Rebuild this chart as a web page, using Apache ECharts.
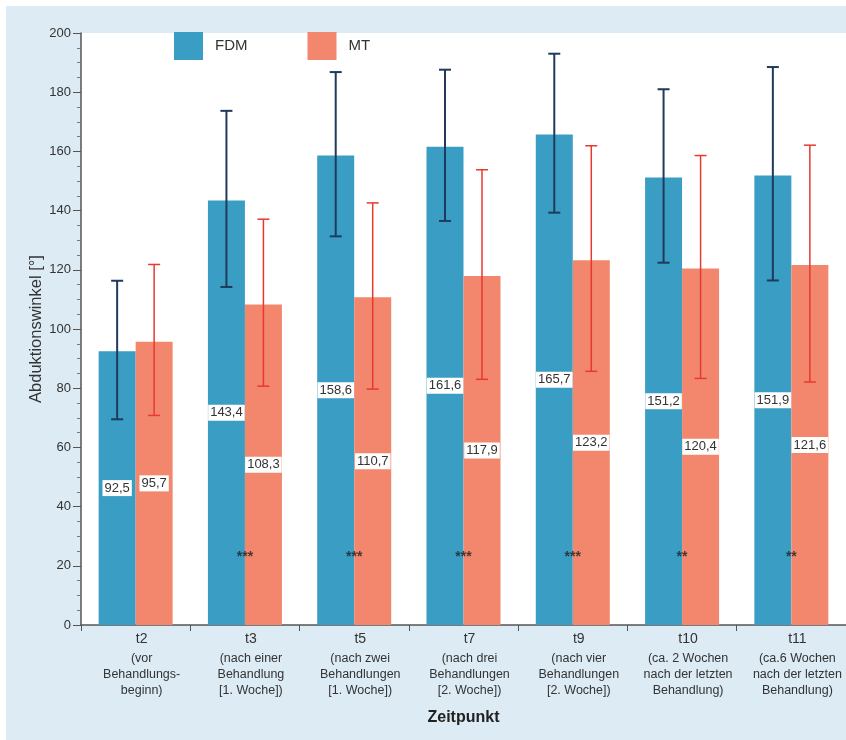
<!DOCTYPE html>
<html>
<head>
<meta charset="utf-8">
<script src="https://cdn.jsdelivr.net/npm/echarts@6/dist/echarts.min.js"></script>
<style>
html,body{margin:0;padding:0;background:#ffffff;width:846px;height:740px;overflow:hidden;}
#chart{position:absolute;left:6px;top:6px;width:840px;height:734px;background:#dcebf4;}
</style>
</head>
<body>
<div id="chart"></div>
<script>
// ---- data ----
const categories = ['t2','t3','t5','t7','t9','t10','t11'];
const subLabels = [
  '(vor\nBehandlungs-\nbeginn)',
  '(nach einer\nBehandlung\n[1. Woche])',
  '(nach zwei\nBehandlungen\n[1. Woche])',
  '(nach drei\nBehandlungen\n[2. Woche])',
  '(nach vier\nBehandlungen\n[2. Woche])',
  '(ca. 2 Wochen\nnach der letzten\nBehandlung)',
  '(ca.6 Wochen\nnach der letzten\nBehandlung)'
];
const fdmValues = [92.5, 143.4, 158.6, 161.6, 165.7, 151.2, 151.9];
const mtValues  = [95.7, 108.3, 110.7, 117.9, 123.2, 120.4, 121.6];
const fdmLow  = [69.5, 114.2, 131.3, 136.5, 139.3, 122.4, 116.4];
const fdmHigh = [116.3, 173.7, 186.8, 187.6, 193.0, 181.0, 188.5];
const mtLow   = [70.8, 80.7, 79.7, 83.0, 85.7, 83.3, 82.1];
const mtHigh  = [121.8, 137.1, 142.6, 153.8, 161.9, 158.6, 162.1];
const significance = ['', '***', '***', '***', '***', '**', '**'];
const significanceY = [23, 23, 23, 23, 23, 23, 23];
const yTicks = {min: 0, max: 200, interval: 20};

// ---- styles ----
const BLUE = '#3a9dc4';
const SALMON = '#f3876d';
const NAVY = '#1f3a5c';
const RED = '#e8392f';
const BAR_W = 37;

const chart = echarts.init(document.getElementById('chart'), null, {renderer: 'canvas'});

function fmt(v){ return String(v.toFixed(1)).replace('.', ','); }

function errorSeries(name, low, high, color, side, lw){
  return {
    type: 'custom',
    name: name + '_err',
    z: 10,
    silent: true,
    data: categories.map((c, i) => [i, low[i], high[i]]),
    encode: {x: 0, y: [1, 2]},
    renderItem: function(params, api){
      const i = api.value(0);
      const pLow = api.coord([i, api.value(1)]);
      const pHigh = api.coord([i, api.value(2)]);
      const x = pLow[0] + side * BAR_W / 2;
      const cap = 6;
      const st = {stroke: color, lineWidth: lw};
      return {
        type: 'group',
        children: [
          {type: 'line', shape: {x1: x, y1: pLow[1], x2: x, y2: pHigh[1]}, style: st},
          {type: 'line', shape: {x1: x - cap, y1: pLow[1], x2: x + cap, y2: pLow[1]}, style: st},
          {type: 'line', shape: {x1: x - cap, y1: pHigh[1], x2: x + cap, y2: pHigh[1]}, style: st}
        ]
      };
    }
  };
}

const valueLabel = {
  show: true,
  position: 'inside',
  formatter: p => fmt(p.value),
  color: '#333',
  fontFamily: 'Liberation Sans, Arial, sans-serif',
  fontSize: 13,
  backgroundColor: '#ffffff',
  padding: [2, 2, 1, 2]
};

const option = {
  animation: false,
  textStyle: {fontFamily: 'Liberation Sans, Arial, sans-serif'},
  grid: {
    left: 75, right: -4, top: 27, bottom: 115,
    show: true, backgroundColor: '#ffffff', borderWidth: 0
  },
  legend: {
    left: 168, top: 26,
    padding: 0,
    itemWidth: 29, itemHeight: 28, itemGap: 60,
    icon: 'rect',
    data: ['FDM', 'MT'],
    textStyle: {fontSize: 15, color: '#333', padding: [0, 0, 0, 7]}
  },
  xAxis: {
    type: 'category',
    data: categories,
    name: 'Zeitpunkt',
    nameLocation: 'middle',
    nameGap: 85,
    nameTextStyle: {fontSize: 16, fontWeight: 'bold', color: '#222'},
    axisLine: {lineStyle: {color: '#555', width: 1.5}},
    axisTick: {show: true, length: 6, lineStyle: {color: '#555'}},
    axisLabel: {
      margin: 2,
      interval: 0,
      padding: [0, 0, 0, 12],
      formatter: (v, i) => '{t|' + v + '}\n{s|' + subLabels[i].split('\n').join('}\n{s|') + '}',
      rich: {
        t: {fontSize: 14, color: '#333', lineHeight: 24},
        s: {fontSize: 12.5, color: '#333', lineHeight: 16}
      }
    }
  },
  yAxis: {
    type: 'value',
    min: yTicks.min, max: yTicks.max, interval: yTicks.interval,
    name: 'Abduktionswinkel [°]',
    nameLocation: 'middle',
    nameGap: 36,
    nameMoveOverlap: false,
    nameTextStyle: {fontSize: 16.5, color: '#333'},
    axisLine: {show: true, lineStyle: {color: '#555', width: 1.5}},
    axisTick: {show: true, length: 8, lineStyle: {color: '#555'}},
    minorTick: {show: true, splitNumber: 4, length: 4, lineStyle: {color: '#777'}},
    splitLine: {show: false},
    axisLabel: {fontSize: 13, color: '#333', margin: 10}
  },
  series: [
    {
      name: 'FDM', type: 'bar', data: fdmValues,
      barWidth: BAR_W, barGap: '0%',
      itemStyle: {color: BLUE},
      label: valueLabel
    },
    {
      name: 'MT', type: 'bar', data: mtValues,
      barWidth: BAR_W, barGap: '0%',
      itemStyle: {color: SALMON},
      label: valueLabel
    },
    errorSeries('FDM', fdmLow, fdmHigh, NAVY, -1, 2),
    errorSeries('MT', mtLow, mtHigh, RED, 1, 1.5),
    {
      type: 'scatter',
      name: 'sig',
      symbolSize: 0,
      z: 11,
      silent: true,
      data: categories.map((c, i) => [i, significanceY[i]]),
      label: {
        show: true,
        position: 'inside',
        formatter: p => significance[p.dataIndex],
        fontSize: 14, fontWeight: 'bold', color: '#222'
      }
    }
  ]
};
chart.setOption(option);
</script>
</body>
</html>
